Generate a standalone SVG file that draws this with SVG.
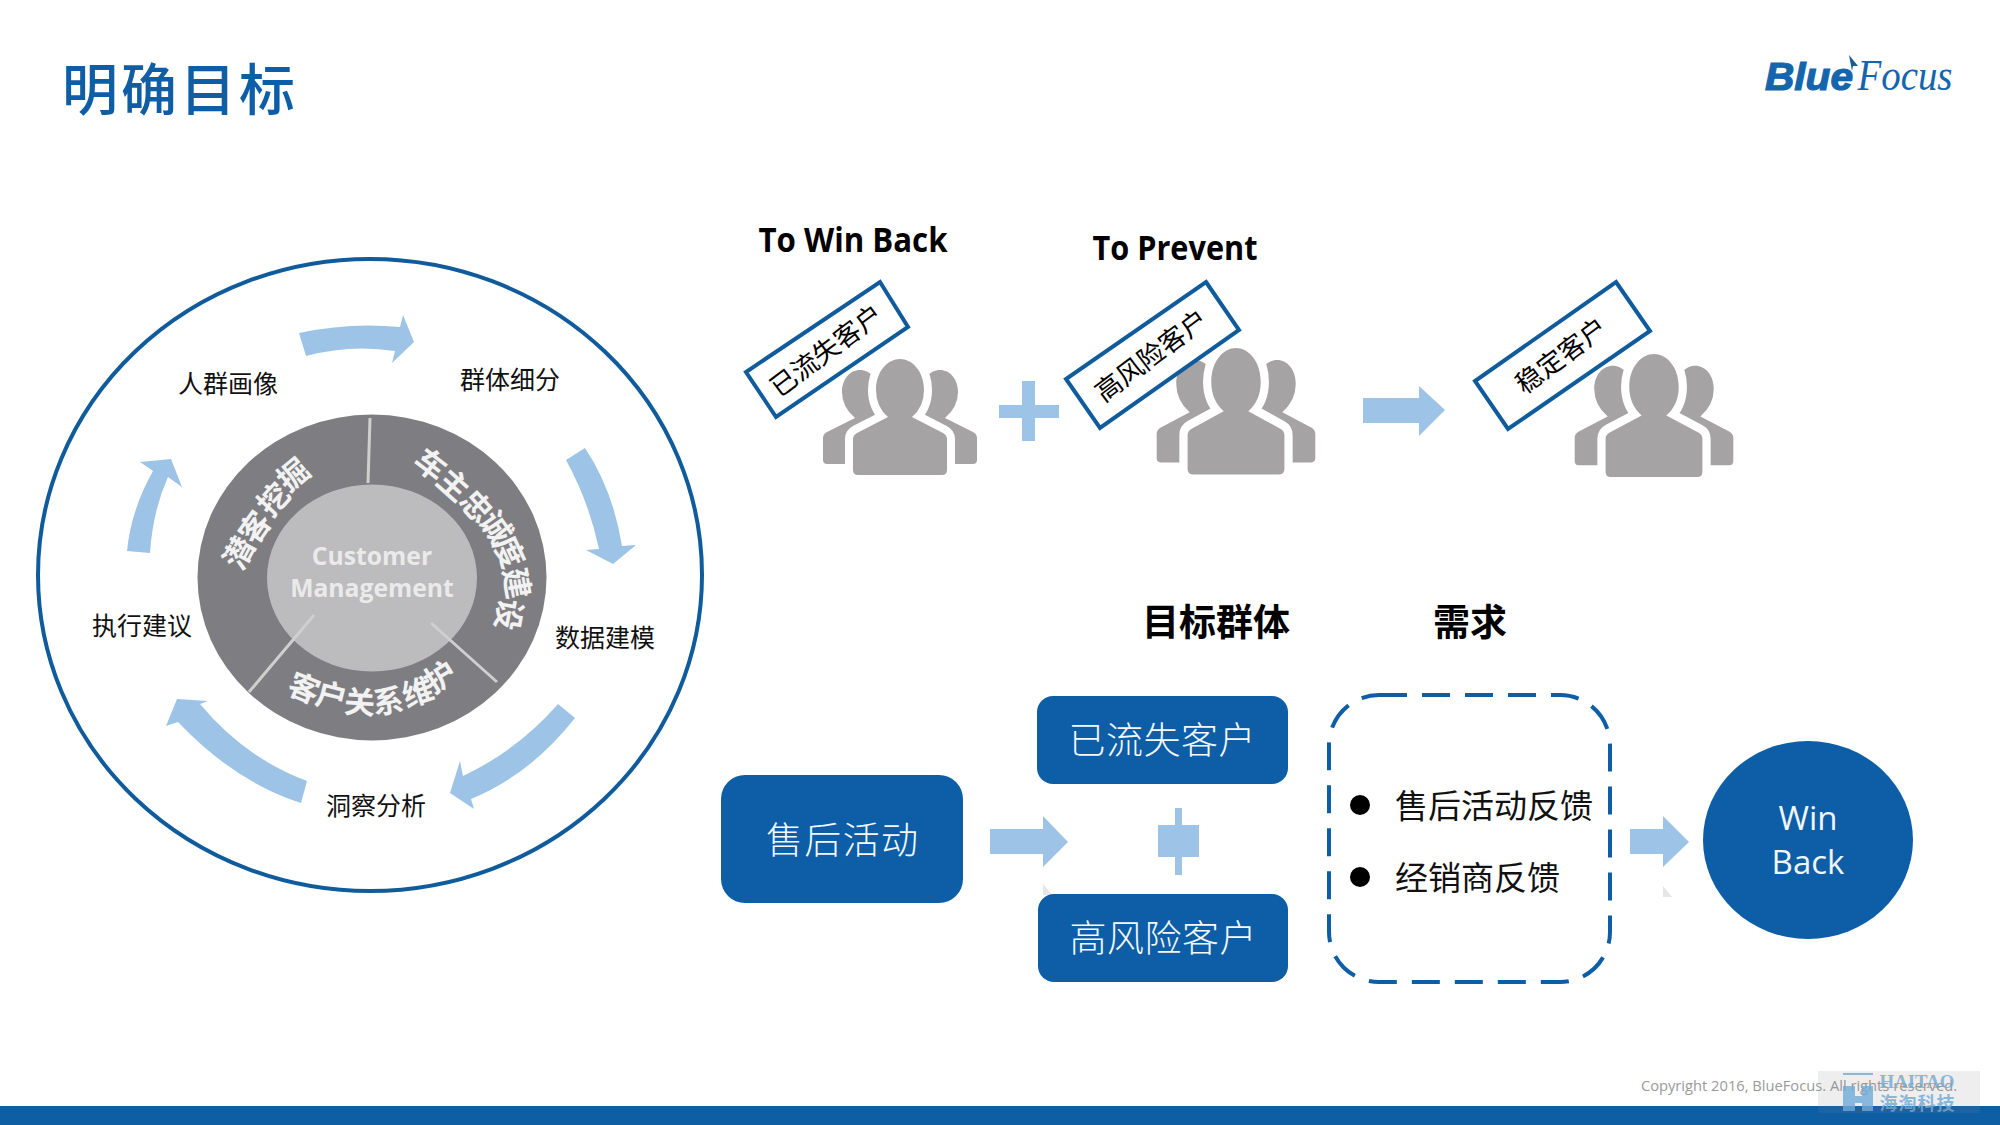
<svg xmlns="http://www.w3.org/2000/svg" width="2000" height="1125" viewBox="0 0 2000 1125">
<style>
text{font-family:"Noto Sans CJK SC","Noto Sans",sans-serif;text-anchor:middle;dominant-baseline:central}
.lat{font-family:"Open Sans","Liberation Sans",sans-serif}
.lbl{font-size:25px;fill:#111}
.ring{font-size:31px;font-weight:700;fill:#f2f2f2}
.tag{fill:#fff;stroke:#0f5b9c;stroke-width:4;stroke-linejoin:miter}
.tagt{font-size:26.500px;fill:#000;font-weight:400}
.arr{fill:#9dc3e6}
.box{fill:#0d5ea6}
.boxt{font-size:37px;fill:#f4f8fc;font-weight:300}
.hd{font-size:37px;font-weight:700;fill:#000}
.en{font-size:34px;font-weight:700;fill:#000;font-family:"Open Sans","Liberation Sans",sans-serif}
.div{stroke:#cfcfcf;stroke-width:3;fill:none}
.req{font-size:33px;fill:#111}
</style>
<defs>
<g id="people">
<path id="side" fill="#a5a3a4" d="M-73,105Q-77,105-77,101V79Q-77,75-73,73L-45,59Q-58,48-58,33C-58,20-50,11-40,11C-30,11-22,20-22,33L-20,105Z"/>
<use href="#side" transform="scale(-1,1)"/>
<path fill="#a5a3a4" stroke="#fff" stroke-width="16" paint-order="stroke" stroke-linejoin="round" d="M-42,116Q-47,116-47,111V80Q-47,76-43,74L-12,58Q-24,48-24,31C-24,12-12,0 0,0C12,0 24,12 24,31Q24,48 12,58L43,74Q47,76 47,80V111Q47,116 42,116Z"/>
</g>
</defs>
<rect width="2000" height="1125" fill="#fff"/>
<g id="title"><text x="180" y="85" font-size="56" font-weight="500" letter-spacing="3" fill="#0d5ea6">明确目标</text></g>
<g id="logo">
<text x="1809" y="90" font-size="38" font-weight="700" font-style="italic" fill="#1565ae" stroke="#1565ae" stroke-width="1.200" style="font-family:'Liberation Sans',sans-serif;dominant-baseline:auto" textLength="88" lengthAdjust="spacingAndGlyphs">Blue</text>
<text x="1905" y="90" font-size="44" font-style="italic" fill="#1565ae" style="font-family:'Liberation Serif',serif;dominant-baseline:auto" textLength="95" lengthAdjust="spacingAndGlyphs">Focus</text>
<path d="M1849,55L1858,66L1853,66L1852,71Z" fill="#1a5b93"/>
</g>
<g id="cycle-frame"><ellipse cx="370" cy="575" rx="332" ry="316" fill="#fff" stroke="#0f5b9c" stroke-width="4"/></g>
<g id="core">
<ellipse cx="372" cy="577.500" rx="174.500" ry="163" fill="#7e7d81"/>
<ellipse cx="372" cy="578" rx="105" ry="93.500" fill="#bcbbbe"/>
<path class="div" d="M370,418L368,483M314,615L249,692M431,623L497,682"/>
<text class="lat" x="372" y="555" font-size="24.700" font-weight="700" fill="#eaeaea">Customer</text>
<text class="lat" x="372" y="587" font-size="24.700" font-weight="700" fill="#eaeaea">Management</text>
<g class="ring">
<text transform="translate(237,552) rotate(-62)">潜</text><text transform="translate(253,526) rotate(-55)">客</text><text transform="translate(272,498) rotate(-47)">挖</text><text transform="translate(292,473) rotate(-40)">掘</text>
<text transform="translate(432,463) rotate(38)">车</text><text transform="translate(455,483) rotate(42)">主</text><text transform="translate(478,505) rotate(48)">忠</text><text transform="translate(498,526) rotate(55)">诚</text><text transform="translate(511,551) rotate(65)">度</text><text transform="translate(519,583) rotate(80)">建</text><text transform="translate(511,615) rotate(100)">设</text>
<text transform="translate(305,686) rotate(22)">客</text><text transform="translate(332,694) rotate(14)">户</text><text transform="translate(360,700) rotate(4)">关</text><text transform="translate(388,699) rotate(-7)">系</text><text transform="translate(417,690) rotate(-18)">维</text><text transform="translate(439,675) rotate(-32)">护</text>
</g>
</g>
<g id="connectors">
<path class="arr" d="M299,333Q350,322 400,327L403,315L414,342L392,363L395,351Q350,344 306,356Z"/>
<path class="arr" d="M566,460L585,448Q613,490 622,546L636,545L613,564L586,550L599,549Q589,502 566,460Z"/>
<path class="arr" d="M558,704L575,718Q530,775 471,799L474,809L450,793L460,761L463,776Q518,750 558,704Z"/>
<path class="arr" d="M307,781L301,803Q235,782 178,722L166,726L177,699L208,701L200,704Q245,758 307,781Z"/>
<path class="arr" d="M127,551L150,553Q153,510 168,477L182,487L171,459L140,462L153,471Q131,510 127,551Z"/>
<path class="arr" d="M1363,398H1419V386L1445,410L1419,436V423H1363Z"/>
<path class="arr" d="M990,829H1043V816L1068,842L1043,867V854H990Z"/>
<path class="arr" d="M1630,829H1663V816L1689,842L1663,867V854H1630Z"/>
<path d="M1043,884L1052,895H1043Z" fill="#e6e6e6"/>
<path d="M1663,886L1672,897H1663Z" fill="#e6e6e6"/>
</g>
<g id="label-persona"><text class="lbl" x="228" y="382">人群画像</text></g>
<g id="label-segment"><text class="lbl" x="510" y="378">群体细分</text></g>
<g id="label-model"><text class="lbl" x="605" y="636">数据建模</text></g>
<g id="label-insight"><text class="lbl" x="376" y="804">洞察分析</text></g>
<g id="label-action"><text class="lbl" x="142" y="624">执行建议</text></g>
<g id="head-winback"><text class="en" x="853" y="239" textLength="189" lengthAdjust="spacingAndGlyphs">To Win Back</text></g>
<g id="head-prevent"><text class="en" x="1175" y="247" textLength="165" lengthAdjust="spacingAndGlyphs">To Prevent</text></g>
<g id="people-lost"><use href="#people" transform="translate(900,359)"/>
<path class="tag" d="M880,282L908,327L776,417L746,372Z"/><text class="tagt" transform="translate(825,349) rotate(-37)">已流失客户</text></g>
<g id="plus-top"><path class="arr" d="M1022,381H1035V405H1059V418H1035V441H1022V418H999V405H1022Z"/></g>
<g id="people-risk"><use href="#people" transform="translate(1236,348) scale(1.03,1.09)"/>
<path class="tag" d="M1206,282L1239,330L1100,428L1066,379Z"/><text class="tagt" transform="translate(1150,354) rotate(-37)">高风险客户</text></g>
<g id="people-stable"><use href="#people" transform="translate(1654,354) scale(1.03,1.06)"/>
<path class="tag" d="M1616,282L1650,331L1508,429L1475,381Z"/><text class="tagt" transform="translate(1560,354) rotate(-37)">稳定客户</text></g>
<g id="head-target"><text class="hd" x="1216" y="620">目标群体</text></g>
<g id="head-need"><text class="hd" x="1470" y="620">需求</text></g>
<g id="after-sales"><rect class="box" x="721" y="775" width="242" height="128" rx="24"/><text class="boxt" x="842" y="838" textLength="152">售后活动</text></g>
<g id="lost-customers"><rect class="box" x="1037" y="696" width="251" height="88" rx="16"/><text class="boxt" x="1162" y="738" textLength="187">已流失客户</text></g>
<g id="plus-mid"><path class="arr" d="M1175,808H1182V825H1199V857H1182V875H1175V857H1158V825H1175Z"/></g>
<g id="risk-customers"><rect class="box" x="1038" y="894" width="250" height="88" rx="16"/><text class="boxt" x="1163" y="936" textLength="187">高风险客户</text></g>
<g id="needs">
<rect x="1329" y="695" width="281" height="287" rx="50" fill="none" stroke="#0d5ea6" stroke-width="4" stroke-dasharray="28 15"/>
<circle cx="1360" cy="805" r="10" fill="#000"/><circle cx="1360" cy="877" r="10" fill="#000"/>
<text class="req" x="1494" y="804">售后活动反馈</text>
<text class="req" x="1477.500" y="876">经销商反馈</text>
</g>
<g id="win-back"><ellipse class="box" cx="1808" cy="840" rx="105" ry="99"/>
<text class="lat" x="1808" y="817" font-size="33" fill="#f0f5fa">Win</text><text class="lat" x="1808" y="861" font-size="33" fill="#f0f5fa">Back</text></g>
<g id="footer">
<rect y="1106" width="2000" height="19" fill="#0d5ea3"/>
<text class="lat" x="1799" y="1085" font-size="14.700" fill="#9a9a9a">Copyright 2016, BlueFocus. All rights reserved.</text>
<rect x="1818" y="1071" width="162" height="42" fill="#888" opacity=".14"/>
<path d="M1843,1073H1873V1075H1843ZM1843,1086H1855V1096H1862V1086H1873V1111H1862V1103H1855V1111H1843Z" fill="#6faad8" opacity=".8"/>
<text x="1917" y="1082" font-size="18" font-weight="700" fill="#6faad8" opacity=".8" style="font-family:'Liberation Serif',serif" textLength="75" lengthAdjust="spacingAndGlyphs">HAITAO</text>
<text x="1917" y="1102" font-size="18" font-weight="700" fill="#6faad8" opacity=".8" textLength="75">海淘科技</text>
</g>
</svg>
